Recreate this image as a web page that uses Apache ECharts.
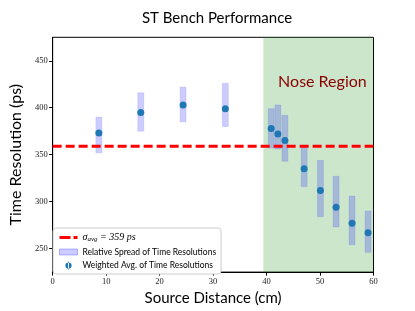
<!DOCTYPE html>
<html><head><meta charset="utf-8">
<script src="https://cdn.jsdelivr.net/npm/echarts@6/dist/echarts.min.js"></script>
<style>html,body{margin:0;padding:0;background:#fff}#c{width:415px;height:311px}</style>
</head><body><div id="c"></div>
<script>
// Data
const distances = [8.64, 16.48, 24.39, 32.29, 40.87, 42.12, 43.43, 47.03, 50.07, 53.0, 55.99, 58.98];
const weightedAvg = [373, 395, 403, 399, 378, 372, 365, 335, 312, 294, 277, 267];
const spreadLow = [352, 375, 385, 380, 357, 356, 343, 316, 284, 273, 254, 246];
const spreadHigh = [390, 416, 422, 426, 399, 403, 392, 359, 344, 327, 306, 290];
const avgValue = 359;
const noseStart = 39.4, noseEnd = 60;
const yTicks = [250, 300, 350, 400, 450];

const chart = echarts.init(document.getElementById('c'), null, {renderer: 'canvas'});
const sans = 'Lato, "DejaVu Sans", sans-serif';
const serif = '"Liberation Serif", "DejaVu Serif", serif';

const spreadData = distances.map((d, i) => [d, spreadLow[i], spreadHigh[i]]);
const pointData = distances.map((d, i) => [d, weightedAvg[i]]);

const legendNames = {
  'avg': '{i|σ}{s|avg}{i| = 359 ps}',
  'spread': 'Relative Spread of Time Resolutions',
  'weighted': 'Weighted Avg. of Time Resolutions'
};

chart.setOption({
  animation: false,
  title: {
    text: 'ST Bench Performance', left: 212, top: 6, textAlign: 'center',
    textStyle: {fontFamily: sans, fontSize: 15, fontWeight: 'normal', color: '#000'}
  },
  grid: {left: 52, right: 41.5, top: 37.3, bottom: 34.3, show: true, borderColor: '#000', borderWidth: 1, backgroundColor: 'transparent'},
  xAxis: {
    type: 'value', min: 0, max: 60, interval: 10,
    name: 'Source Distance (cm)', nameLocation: 'middle', nameGap: 16,
    nameTextStyle: {fontFamily: sans, fontSize: 15, color: '#000'},
    axisLine: {show: true, lineStyle: {color: '#000', width: 1}},
    axisTick: {show: true, length: 3.5, lineStyle: {color: '#000'}},
    axisLabel: {fontFamily: serif, fontSize: 8.5, color: '#222', margin: 5},
    splitLine: {show: false}
  },
  yAxis: {
    type: 'value', min: 225, max: 475,
    name: 'Time Resolution (ps)', nameLocation: 'middle', nameGap: 26, nameRotate: 90,
    nameTextStyle: {fontFamily: sans, fontSize: 16, color: '#000'},
    axisLine: {show: true, lineStyle: {color: '#000', width: 1}},
    axisTick: {show: true, length: 3.5, lineStyle: {color: '#000'}, customValues: yTicks},
    axisLabel: {fontFamily: serif, fontSize: 8.5, color: '#222', margin: 5, customValues: yTicks},
    splitLine: {show: false}
  },
  legend: {
    orient: 'vertical', left: 53, top: 228, padding: [4, 5, 4, 6],
    backgroundColor: '#fff', borderColor: '#ccc', borderWidth: 1, borderRadius: 3,
    itemWidth: 18, itemHeight: 8, itemGap: 4.5, selectedMode: false,
    textStyle: {fontFamily: sans, fontSize: 8.5, color: '#000',
      rich: {
        i: {fontFamily: serif, fontStyle: 'italic', fontSize: 10, lineHeight: 11, verticalAlign: 'middle'},
        s: {fontFamily: serif, fontStyle: 'italic', fontSize: 7, lineHeight: 11, verticalAlign: 'bottom', padding: [4, 0, 0, 0]}
      }},
    formatter: n => legendNames[n],
    data: [
      {name: 'avg', icon: 'path://M0,0h11v3h-11z M14,0h4v3h-4z', itemStyle: {color: 'red', borderWidth: 0}},
      {name: 'spread', icon: 'path://M0,0h18v6h-18z', itemStyle: {color: 'rgba(0,0,255,0.2)', borderColor: 'rgba(0,0,255,0.25)', borderWidth: 1}},
      {name: 'weighted', icon: 'path://M0,4.5a3.5,3.5 0 1 0 7,0a3.5,3.5 0 1 0 -7,0z M3,0h1v9h-1z', itemStyle: {color: '#1f77b4', borderWidth: 0}}
    ]
  },
  series: [
    {
      name: 'nose', type: 'line', data: [], z: 0, silent: true,
      markArea: {
        silent: true,
        itemStyle: {color: 'rgba(0,128,0,0.2)'},
        label: {show: true, position: 'insideTop', offset: [4, 32], color: '#8b0000', fontFamily: sans, fontSize: 16},
        data: [[{xAxis: noseStart, yAxis: 225, name: 'Nose Region'}, {xAxis: noseEnd, yAxis: 475}]]
      }
    },
    {
      name: 'spread', type: 'custom', z: 2, data: spreadData,
      encode: {x: 0, y: [1, 2]},
      renderItem: (params, api) => {
        const x = api.value(0);
        const p1 = api.coord([x, api.value(1)]);
        const p2 = api.coord([x, api.value(2)]);
        const w = 6;
        return {
          type: 'rect',
          shape: {x: p1[0] - w / 2, y: p2[1], width: w, height: p1[1] - p2[1]},
          style: {fill: 'rgba(0,0,255,0.2)', stroke: 'rgba(0,0,255,0.1)', lineWidth: 1}
        };
      }
    },
    {
      name: 'avg', type: 'line', z: 3, data: [[0, avgValue], [60, avgValue]],
      symbol: 'none', lineStyle: {color: 'red', width: 3, type: [9, 4]}
    },
    {
      name: 'weighted', type: 'scatter', z: 4, data: pointData,
      symbolSize: 7, itemStyle: {color: '#1f77b4', opacity: 1}
    }
  ]
});
</script></body></html>
